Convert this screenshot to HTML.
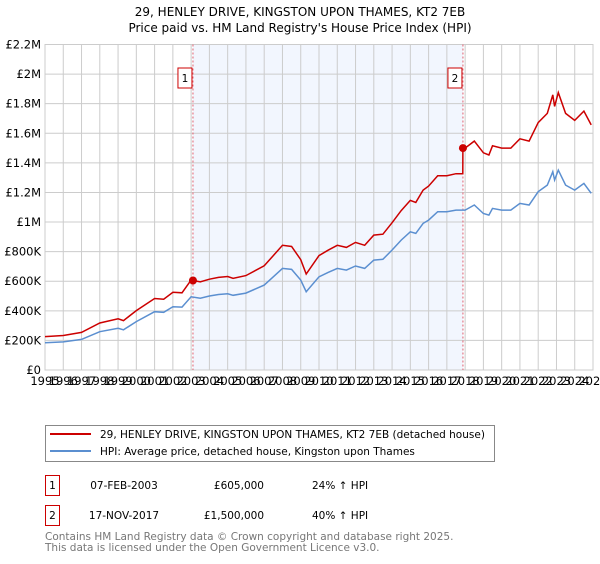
<!DOCTYPE html>
<html><head><meta charset="utf-8"><style>
body{margin:0;width:600px;height:560px;background:#fff;font-family:"DejaVu Sans","Liberation Sans",sans-serif;overflow:hidden}
svg text{font-family:"DejaVu Sans","Liberation Sans",sans-serif}
</style></head><body>
<svg id="chart" width="600" height="560" xmlns="http://www.w3.org/2000/svg">
<text x="300" y="16" text-anchor="middle" font-size="12">29, HENLEY DRIVE, KINGSTON UPON THAMES, KT2 7EB</text>
<text x="300" y="32" text-anchor="middle" font-size="12">Price paid vs. HM Land Registry's House Price Index (HPI)</text>
<g id="plot"></g>
<rect x="45.5" y="425.5" width="449" height="36" fill="#fff" stroke="#888"/>
<line x1="50" y1="434" x2="91" y2="434" stroke="#cc0000" stroke-width="2"/>
<text x="100" y="438" font-size="10.5">29, HENLEY DRIVE, KINGSTON UPON THAMES, KT2 7EB (detached house)</text>
<line x1="50" y1="451" x2="91" y2="451" stroke="#5b8fd0" stroke-width="2"/>
<text x="100" y="455" font-size="10.5">HPI: Average price, detached house, Kingston upon Thames</text>
<rect x="45.5" y="475.5" width="14" height="20" fill="#fff" stroke="#cc0000"/>
<text x="52.5" y="489" text-anchor="middle" font-size="10.5">1</text>
<text x="124" y="489" text-anchor="middle" font-size="10.5">07-FEB-2003</text>
<text x="264" y="489" text-anchor="end" font-size="10.5">£605,000</text>
<text x="312" y="489" font-size="10.5">24% ↑ HPI</text>
<rect x="45.5" y="505.5" width="14" height="20" fill="#fff" stroke="#cc0000"/>
<text x="52.5" y="519" text-anchor="middle" font-size="10.5">2</text>
<text x="124" y="519" text-anchor="middle" font-size="10.5">17-NOV-2017</text>
<text x="264" y="519" text-anchor="end" font-size="10.5">£1,500,000</text>
<text x="312" y="519" font-size="10.5">40% ↑ HPI</text>
<text x="45" y="540" font-size="10.5" fill="#777">Contains HM Land Registry data © Crown copyright and database right 2025.</text>
<text x="45" y="551" font-size="10.5" fill="#777">This data is licensed under the Open Government Licence v3.0.</text>
</svg>
<script>
const hpiYears=[1995,1996,1997,1998,1999,1999.3,2000,2001,2001.5,2002,2002.5,2003,2003.5,2004,2004.5,2005,2005.3,2006,2007,2007.5,2008,2008.5,2009,2009.3,2010,2010.5,2011,2011.5,2012,2012.5,2013,2013.5,2014,2014.5,2015,2015.3,2015.7,2016,2016.5,2017,2017.5,2018,2018.5,2019,2019.3,2019.5,2020,2020.5,2021,2021.5,2022,2022.5,2022.8,2022.9,2023.1,2023.5,2024,2024.5,2024.9];
const hpiValues=[184000,190000,207000,259000,282000,272000,327000,394000,390000,428000,425000,495000,485000,500000,510000,515000,505000,520000,574000,630000,687000,680000,608000,529000,630000,660000,687000,675000,703000,687000,743000,748000,811000,878000,934000,923000,991000,1013000,1070000,1070000,1081000,1081000,1115000,1058000,1047000,1092000,1081000,1081000,1126000,1115000,1205000,1250000,1340000,1284000,1351000,1250000,1216000,1261000,1194000];
const saleYears=[2003.1,2017.88];
const salePrices=[605000,1500000];
const yTicks=[0,200000,400000,600000,800000,1000000,1200000,1400000,1600000,1800000,2000000,2200000];
const yTickLabels=["£0","£200K","£400K","£600K","£800K","£1M","£1.2M","£1.4M","£1.6M","£1.8M","£2M","£2.2M"];
const xTicks=[1995,1996,1997,1998,1999,2000,2001,2002,2003,2004,2005,2006,2007,2008,2009,2010,2011,2012,2013,2014,2015,2016,2017,2018,2019,2020,2021,2022,2023,2024,2025];

const X0=45,X1=593,Y0=370,Y1=44.5,XMIN=1995,XMAX=2025,YMAX=2200000;
const xs=v=>X0+(v-XMIN)/(XMAX-XMIN)*(X1-X0);
const ys=v=>Y0-v/YMAX*(Y0-Y1);
const NS="http://www.w3.org/2000/svg";
const g=document.getElementById('plot');
function mk(t,a){const e=document.createElementNS(NS,t);for(const k in a)e.setAttribute(k,a[k]);g.appendChild(e);return e;}
function hpiAt(t){for(let i=0;i<hpiYears.length-1;i++){if(t>=hpiYears[i]&&t<=hpiYears[i+1]){const f=(t-hpiYears[i])/(hpiYears[i+1]-hpiYears[i]);return hpiValues[i]+f*(hpiValues[i+1]-hpiValues[i]);}}return hpiValues[hpiValues.length-1];}

const shade=mk('rect',{x:xs(saleYears[0]),y:Y1,width:xs(saleYears[1])-xs(saleYears[0]),height:Y0-Y1,fill:'#f2f6fe'});


yTicks.forEach((v,i)=>{
 const l=mk('line',{x1:X0,x2:X1,y1:ys(v),y2:ys(v),stroke:'#ccc'});
 
 
 const t=mk('text',{x:X0-4,y:ys(v)+4,'text-anchor':'end','font-size':'11.5'});
 t.textContent=yTickLabels[i];
 
 
});
xTicks.forEach(v=>{
 const l=mk('line',{x1:xs(v),x2:xs(v),y1:Y1,y2:Y0,stroke:'#ccc'});
 
 
 const t=mk('text',{x:xs(v),y:Y0+15,'font-size':'11.5','text-anchor':'middle'});
 t.textContent=v;
 
 
});
const fr=mk('rect',{x:X0,y:Y1,width:X1-X0,height:Y0-Y1,fill:'none',stroke:'#ccc'});


saleYears.forEach((s,i)=>{
 const l=mk('line',{x1:xs(s),x2:xs(s),y1:Y1,y2:Y0,stroke:'#e06070','stroke-dasharray':'2,2'});
 
 
 const b=mk('rect',{x:xs(s)-15,y:68,width:14,height:20,fill:'#fff',stroke:'#cc0000'});
 
 
 const t=mk('text',{x:xs(s)-8,y:82,'text-anchor':'middle','font-size':'10.5'});
 t.textContent=String(i+1);
 
 
});
const f1=salePrices[0]/hpiAt(saleYears[0]),f2=salePrices[1]/hpiAt(saleYears[1]);
let bp='',rp='';
hpiYears.forEach((y,i)=>{bp+=(i?'L':'M')+xs(y).toFixed(1)+','+ys(hpiValues[i]).toFixed(1);});
const redPts=[];
hpiYears.forEach((y,i)=>{if(y<saleYears[1])redPts.push([y,hpiValues[i]*f1]);});
redPts.push([saleYears[1]-0.01,hpiAt(saleYears[1])*f1]);
redPts.push([saleYears[1],salePrices[1]]);
hpiYears.forEach((y,i)=>{if(y>saleYears[1])redPts.push([y,hpiValues[i]*f2]);});
redPts.forEach((p,i)=>{rp+=(i?'L':'M')+xs(p[0]).toFixed(1)+','+ys(p[1]).toFixed(1);});
const bl=mk('path',{d:bp,fill:'none',stroke:'#5b8fd0','stroke-width':1.5});


const rl=mk('path',{d:rp,fill:'none',stroke:'#cc0000','stroke-width':1.5});


saleYears.forEach((s,i)=>{
 const c=mk('circle',{cx:xs(s),cy:ys(salePrices[i]),r:4,fill:'#cc0000'});
 
 
});
</script>
</body></html>
